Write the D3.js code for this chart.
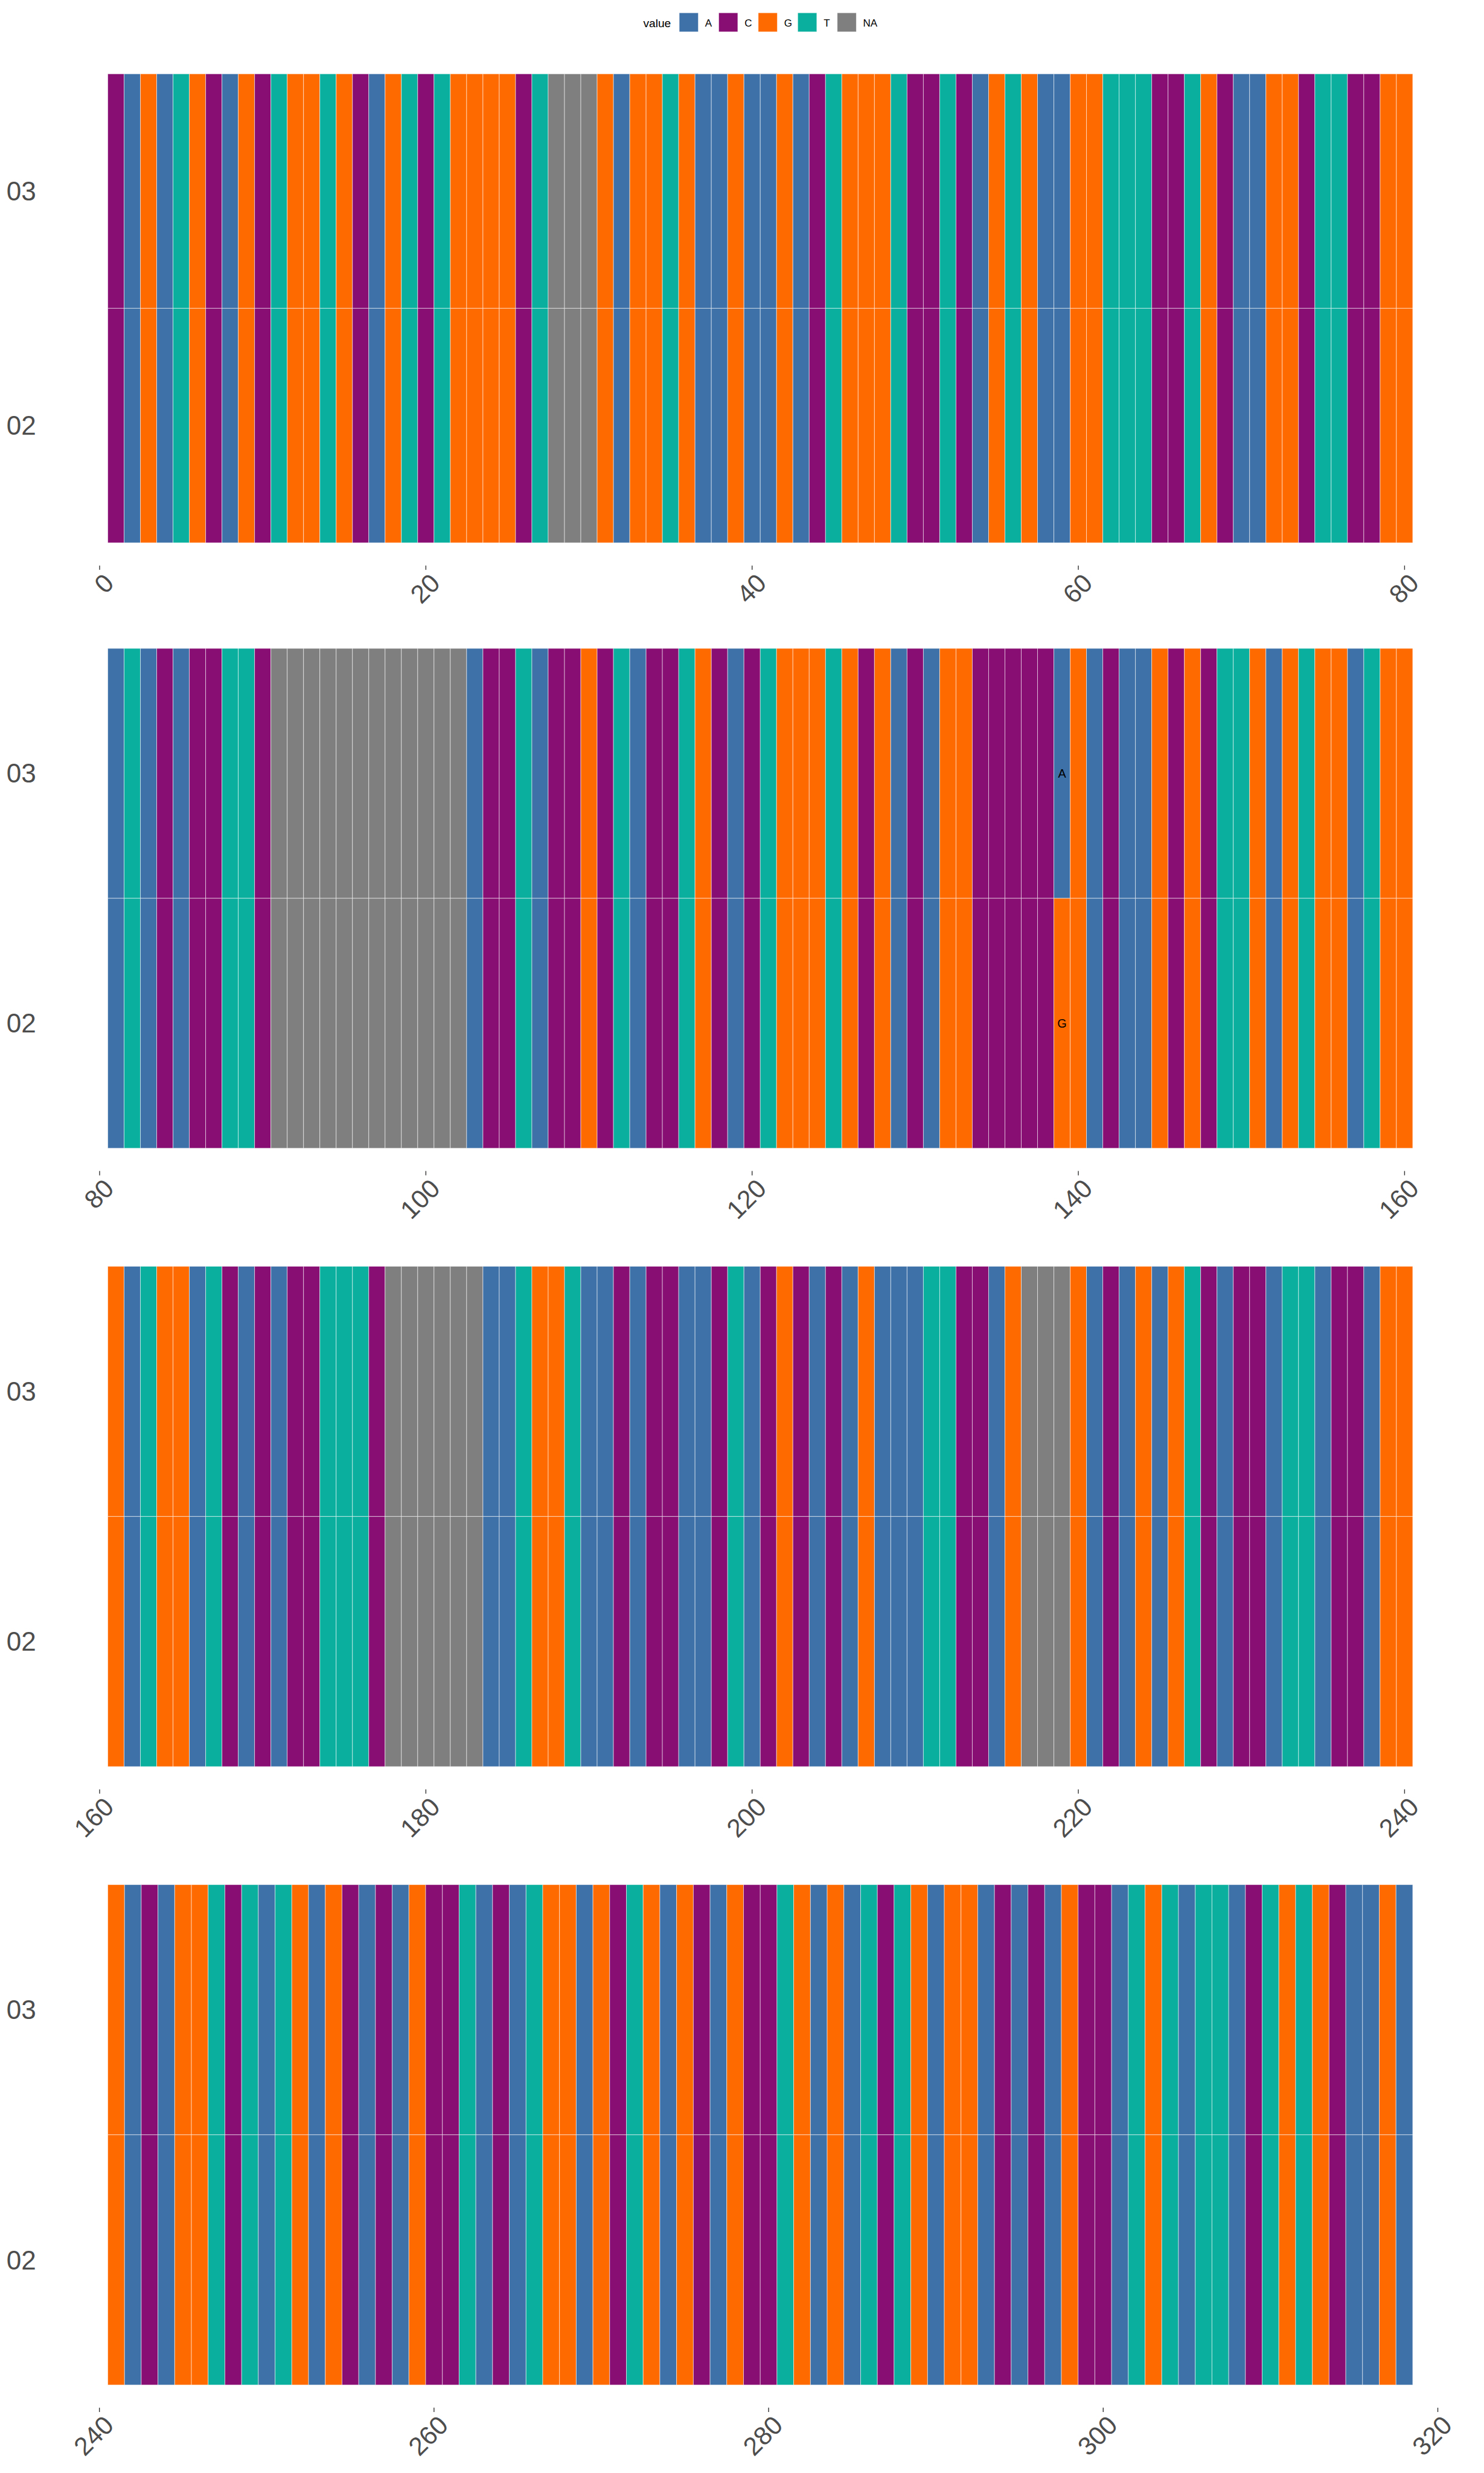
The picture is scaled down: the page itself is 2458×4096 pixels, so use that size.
<!DOCTYPE html>
<html><head><meta charset="utf-8">
<script src="https://cdn.jsdelivr.net/npm/d3@7"></script>
<style>html,body{margin:0;padding:0;background:#fff}</style>
</head><body><svg id="chart" width="2458" height="4096"></svg>
<script>
// ---------------- data ----------------
const samples = ["03", "02"];
const bases = ["A", "C", "G", "T", "NA"];
const baseColors = ["#3E71A8", "#880E73", "#FF6A00", "#0BAF9E", "#7F7F7F"];
// "-" = NA (missing)
const seq03 = [
  "CAGATGCAGC","TGGTGCAGTC","TGGGGCT---","GAGGTGAAGA","AGACTGGGTC","CTCAGTGAAG","GTTTCCTGCA","AGGCTTCCGG",
  "ATACACCTTC","----------","--ACCTACCG","CTACCTGCAC","TGGGTGCGAC","AGGCCCCCAG","ACAAGCGCTT","GAGTGGATGG",
  "GATGGATCAC","ACCTTTC---","---AATGGTA","ACACCAACTA","CGCACAGAAA","TTCCAG---G","ACAGAGTCAC","CATTACCAGG",
  "GACAGGTCTA","TGAGCACAGC","CTACATGGAG","CTGAGCAGCC","TGAGATCTGA","GGACACAGCC","ATGTATTACT","GTGCAAGA"
].join("");
const seq02 = [
  "CAGATGCAGC","TGGTGCAGTC","TGGGGCT---","GAGGTGAAGA","AGACTGGGTC","CTCAGTGAAG","GTTTCCTGCA","AGGCTTCCGG",
  "ATACACCTTC","----------","--ACCTACCG","CTACCTGCAC","TGGGTGCGAC","AGGCCCCCGG","ACAAGCGCTT","GAGTGGATGG",
  "GATGGATCAC","ACCTTTC---","---AATGGTA","ACACCAACTA","CGCACAGAAA","TTCCAG---G","ACAGAGTCAC","CATTACCAGG",
  "GACAGGTCTA","TGAGCACAGC","CTACATGGAG","CTGAGCAGCC","TGAGATCTGA","GGACACAGCC","ATGTATTACT","GTGCAAGA"
].join("");
const panelStarts = [1, 81, 161, 241];
const panelEnds = [80, 160, 240, 318];
const tickStep = 20;

// ---------------- layout (reference px, scaled) ----------------
const S = 2458 / 3456;
const panelLeft = 251 * S, panelRight = 3290 * S;
const panelTop = [172, 1510, 2949, 4389].map(v => v * S);
const panelBottom = [1264, 2674, 4114, 5554].map(v => v * S);
const font = "'Liberation Sans', Arial, Helvetica, sans-serif";

const toVal = ch => ch === "-" ? "NA" : ch;
const seqs = {"03": seq03, "02": seq02};
const cells = [];
samples.forEach(s => {
  [...seqs[s]].forEach((ch, i) => cells.push({pos: i + 1, sample: s, value: toVal(ch)}));
});
const diffs = new Set();
for (let i = 0; i < seq03.length; i++) {
  if (seq03[i] !== seq02[i] && seq03[i] !== "-" && seq02[i] !== "-") diffs.add(i + 1);
}

const color = d3.scaleOrdinal().domain(bases).range(baseColors);
const svg = d3.select("#chart");

panelStarts.forEach((start, p) => {
  const end = panelEnds[p];
  const x = d3.scaleLinear().domain([start - 0.5, end + 0.5]).range([panelLeft, panelRight]);
  const y = d3.scaleBand().domain(samples).range([panelTop[p], panelBottom[p]]);
  const g = svg.append("g");
  const data = cells.filter(d => d.pos >= start && d.pos <= end);
  g.selectAll("rect").data(data).join("rect")
    .attr("x", d => x(d.pos - 0.5))
    .attr("y", d => y(d.sample))
    .attr("width", x(start + 1) - x(start))
    .attr("height", y.bandwidth())
    .attr("fill", d => color(d.value))
    .attr("stroke", "#ffffff")
    .attr("stroke-opacity", 0.55)
    .attr("stroke-width", 1);
  // difference labels
  g.selectAll("text.diff").data(data.filter(d => diffs.has(d.pos))).join("text")
    .attr("class", "diff")
    .attr("x", d => x(d.pos))
    .attr("y", d => y(d.sample) + y.bandwidth() / 2)
    .attr("text-anchor", "middle")
    .attr("dominant-baseline", "central")
    .attr("font-family", font)
    .attr("font-size", 28 * S)
    .attr("fill", "#000")
    .text(d => d.value);
  // y labels
  g.selectAll("text.ylab").data(samples).join("text")
    .attr("class", "ylab")
    .attr("x", 84 * S)
    .attr("y", d => y(d) + y.bandwidth() / 2)
    .attr("text-anchor", "end")
    .attr("dominant-baseline", "central")
    .attr("font-family", font)
    .attr("font-size", 62 * S)
    .attr("fill", "#4D4D4D")
    .text(d => d);
  // x ticks
  const ticks = d3.range(start - 1, end + tickStep, tickStep).filter(t => t <= start - 1 + 80);
  const yb = panelBottom[p];
  g.selectAll("line.tick").data(ticks).join("line")
    .attr("x1", d => x(d)).attr("x2", d => x(d))
    .attr("y1", yb + 53 * S).attr("y2", yb + 63 * S)
    .attr("stroke", "#333").attr("stroke-width", 1.4);
  g.selectAll("text.xlab").data(ticks).join("text")
    .attr("class", "xlab")
    .attr("transform", d => `translate(${x(d) + 6 * S},${yb + 67 * S}) rotate(-45)`)
    .attr("text-anchor", "end")
    .attr("dy", "0.72em")
    .attr("font-family", font)
    .attr("font-size", 60 * S)
    .attr("fill", "#4D4D4D")
    .text(d => d);
});

// ---------------- legend ----------------
const leg = svg.append("g");
leg.append("text")
  .attr("x", 1498 * S).attr("y", 63 * S)
  .attr("font-family", font).attr("font-size", 27 * S).attr("fill", "#000")
  .text("value");
const legX0 = 1582 * S, legStep = 92 * S, sw = 44 * S;
leg.selectAll("rect").data(bases).join("rect")
  .attr("x", (d, i) => legX0 + i * legStep)
  .attr("y", 30 * S)
  .attr("width", sw).attr("height", sw)
  .attr("fill", d => color(d))
  .attr("stroke", "#ffffff").attr("stroke-opacity", 0.4).attr("stroke-width", 0.8);
leg.selectAll("text.lab").data(bases).join("text")
  .attr("class", "lab")
  .attr("x", (d, i) => legX0 + i * legStep + sw + 16 * S)
  .attr("y", 62 * S)
  .attr("font-family", font).attr("font-size", 24 * S).attr("fill", "#000")
  .text(d => d);
</script></body></html>
